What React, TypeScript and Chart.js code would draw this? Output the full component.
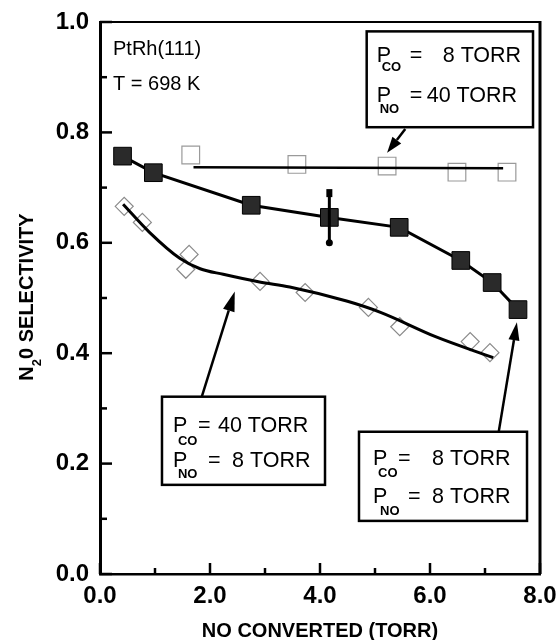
import React, { useEffect, useRef } from "react";
import { Chart, registerables } from "chart.js";

Chart.register(...registerables);

// ---- Data ----
// Filled squares: P_CO = 8 TORR, P_NO = 8 TORR
const filledX = [0.41, 0.97, 2.75, 4.17, 5.44, 6.56, 7.13, 7.6];
const filledY = [0.757, 0.727, 0.668, 0.646, 0.628, 0.568, 0.528, 0.479];
// error bar on the filled series
const errX = [4.17];
const errLo = [0.6];
const errHi = [0.69];

// Open squares: P_CO = 8 TORR, P_NO = 40 TORR
const openX = [1.65, 3.58, 5.22, 6.49, 7.4];
const openY = [0.759, 0.742, 0.739, 0.728, 0.728];
// straight fit line through the open squares
const openFitX = [1.7, 7.33];
const openFitY = [0.737, 0.735];

// Diamonds: P_CO = 40 TORR, P_NO = 8 TORR
const diamondX = [0.44, 0.77, 1.62, 1.56, 2.91, 3.73, 4.88, 5.45, 6.73, 7.09];
const diamondY = [0.666, 0.637, 0.579, 0.552, 0.53, 0.51, 0.483, 0.448, 0.421, 0.401];
// smooth fit curve through the diamonds
const diamondFitX = [0.42, 0.9, 1.45, 1.82, 2.24, 2.9, 3.45, 4.5, 5.1, 6.1, 7.15];
const diamondFitY = [0.67, 0.619, 0.572, 0.553, 0.543, 0.529, 0.52, 0.494, 0.474, 0.43, 0.392];

// Axis ticks
const xMajor = [0, 2, 4, 6, 8];
const xMinor = [1, 3, 5, 7];
const yMajor = [0, 0.2, 0.4, 0.6, 0.8, 1.0];
const yMinor = [0.1, 0.3, 0.5, 0.7, 0.9];

const xTitle = "NO CONVERTED (TORR)";
const yTitleParts = ["N", "2", "0 SELECTIVITY"];
const sampleLabels = ["PtRh(111)", "T = 698 K"];

// Annotation boxes (data coordinates for the box, pixel offsets for text inside)
const boxes = [
  {
    x0: 4.849, x1: 7.873, y0: 0.983, y1: 0.8094,
    lines: [
      { pDx: 10, pBy: 31, sub: "CO", sDx: 15, sBy: 40, eqDx: 43, val: "8 TORR", vDx: 76 },
      { pDx: 10, pBy: 71, sub: "NO", sDx: 13, sBy: 82, eqDx: 43, val: "40 TORR", vDx: 60 },
    ],
  },
  {
    x0: 1.127, x1: 4.091, y0: 0.3212, y1: 0.1615,
    lines: [
      { pDx: 11, pBy: 35, sub: "CO", sDx: 16, sBy: 48, eqDx: 36, val: "40 TORR", vDx: 56 },
      { pDx: 11, pBy: 70, sub: "NO", sDx: 16, sBy: 81, eqDx: 46, val: "8 TORR", vDx: 70 },
    ],
  },
  {
    x0: 4.709, x1: 7.764, y0: 0.2577, y1: 0.0962,
    lines: [
      { pDx: 14, pBy: 33, sub: "CO", sDx: 19, sBy: 45, eqDx: 39, val: "8 TORR", vDx: 73 },
      { pDx: 14, pBy: 71, sub: "NO", sDx: 21, sBy: 83, eqDx: 49, val: "8 TORR", vDx: 73 },
    ],
  },
];

// Arrows: tail -> tip (data coordinates)
const arrows = [
  { x0: 5.55, y0: 0.806, x1: 5.22, y1: 0.763, head: 16, w: 11 },
  { x0: 1.85, y0: 0.321, x1: 2.45, y1: 0.512, head: 20, w: 12 },
  { x0: 7.25, y0: 0.258, x1: 7.58, y1: 0.456, head: 18, w: 11 },
];

const FONT = "'Liberation Sans', Arial, Helvetica, sans-serif";

const pts = (xs: number[], ys: number[]) => xs.map((x, i) => ({ x, y: ys[i] }));

const customPlugin = {
  id: "customDraw",
  afterDatasetsDraw(chart: any) {
    const { ctx, chartArea: ca, scales } = chart;
    const xs = scales.x;
    const ys = scales.y;
    const px = (v: number) => xs.getPixelForValue(v);
    const py = (v: number) => ys.getPixelForValue(v);
    ctx.save();
    ctx.strokeStyle = "#000";
    ctx.fillStyle = "#000";
    ctx.lineCap = "butt";

    // top and right frame
    ctx.lineWidth = 2;
    ctx.beginPath();
    ctx.moveTo(ca.left, ca.top);
    ctx.lineTo(ca.right, ca.top);
    ctx.stroke();
    ctx.lineWidth = 3;
    ctx.beginPath();
    ctx.moveTo(ca.right, ca.top - 1);
    ctx.lineTo(ca.right, ca.bottom);
    ctx.stroke();

    // inward ticks
    ctx.lineWidth = 2.5;
    const tick = (vals: number[], len: number, axis: "x" | "y") => {
      vals.forEach((v) => {
        ctx.beginPath();
        if (axis === "x") {
          const p = px(v);
          ctx.moveTo(p, ca.bottom);
          ctx.lineTo(p, ca.bottom - len);
        } else {
          const p = py(v);
          ctx.moveTo(ca.left, p);
          ctx.lineTo(ca.left + len, p);
        }
        ctx.stroke();
      });
    };
    tick(xMajor, 11, "x");
    tick(xMinor, 6, "x");
    tick(yMajor, 12, "y");
    tick(yMinor, 7, "y");

    // error bar
    errX.forEach((xv, i) => {
      const x = px(xv);
      const t = py(errHi[i]);
      const b = py(errLo[i]);
      ctx.lineWidth = 3;
      ctx.beginPath();
      ctx.moveTo(x, t);
      ctx.lineTo(x, b);
      ctx.stroke();
      ctx.fillRect(x - 3, t - 4, 6, 8);
      ctx.beginPath();
      ctx.arc(x, b, 3.5, 0, Math.PI * 2);
      ctx.fill();
    });

    // sample labels
    ctx.font = `20px ${FONT}`;
    ctx.textAlign = "left";
    ctx.textBaseline = "alphabetic";
    ctx.fillText(sampleLabels[0], ca.left + 13, ca.top + 33);
    ctx.fillText(sampleLabels[1], ca.left + 13, ca.top + 68);

    // boxes
    boxes.forEach((bx) => {
      const l = px(bx.x0);
      const r = px(bx.x1);
      const t = py(bx.y0);
      const b = py(bx.y1);
      ctx.fillStyle = "#fff";
      ctx.fillRect(l, t, r - l, b - t);
      ctx.fillStyle = "#000";
      ctx.lineWidth = 2.5;
      ctx.strokeRect(l, t, r - l, b - t);
      bx.lines.forEach((ln) => {
        ctx.font = `21.5px ${FONT}`;
        ctx.fillText("P", l + ln.pDx, t + ln.pBy);
        ctx.fillText("=", l + ln.eqDx, t + ln.pBy);
        ctx.fillText(ln.val, l + ln.vDx, t + ln.pBy);
        ctx.font = `bold 13px ${FONT}`;
        ctx.fillText(ln.sub, l + ln.sDx, t + ln.sBy);
      });
    });

    // arrows
    arrows.forEach((a) => {
      const x0 = px(a.x0), y0 = py(a.y0), x1 = px(a.x1), y1 = py(a.y1);
      const ang = Math.atan2(y1 - y0, x1 - x0);
      const bxp = x1 - Math.cos(ang) * a.head;
      const byp = y1 - Math.sin(ang) * a.head;
      ctx.lineWidth = 2.5;
      ctx.beginPath();
      ctx.moveTo(x0, y0);
      ctx.lineTo(bxp, byp);
      ctx.stroke();
      const nx = -Math.sin(ang) * (a.w / 2);
      const ny = Math.cos(ang) * (a.w / 2);
      ctx.beginPath();
      ctx.moveTo(x1, y1);
      ctx.lineTo(bxp + nx, byp + ny);
      ctx.lineTo(bxp - nx, byp - ny);
      ctx.closePath();
      ctx.fill();
    });

    // axis titles
    ctx.font = `bold 20px ${FONT}`;
    ctx.textAlign = "center";
    ctx.fillText(xTitle, (ca.left + ca.right) / 2, 637);

    ctx.translate(33, 297);
    ctx.rotate(-Math.PI / 2);
    ctx.textAlign = "left";
    ctx.font = `bold 20px ${FONT}`;
    const wN = ctx.measureText(yTitleParts[0]).width;
    ctx.font = `bold 13px ${FONT}`;
    const w2 = ctx.measureText(yTitleParts[1]).width;
    ctx.font = `bold 20px ${FONT}`;
    const wRest = ctx.measureText(yTitleParts[2]).width;
    const total = wN + w2 + wRest;
    let cx = -total / 2;
    ctx.fillText(yTitleParts[0], cx, 0);
    cx += wN;
    ctx.font = `bold 13px ${FONT}`;
    ctx.fillText(yTitleParts[1], cx, 8);
    cx += w2;
    ctx.font = `bold 20px ${FONT}`;
    ctx.fillText(yTitleParts[2], cx, 0);

    ctx.restore();
  },
};

export default function App() {
  const ref = useRef<HTMLCanvasElement | null>(null);
  useEffect(() => {
    if (!ref.current) return;
    const tickFont = { family: FONT, size: 24, weight: "bold" as const };
    const chart = new Chart(ref.current, {
      type: "scatter",
      data: {
        datasets: [
          {
            label: "PCO=8, PNO=8",
            data: pts(filledX, filledY),
            showLine: true,
            borderColor: "#000",
            borderWidth: 3,
            tension: 0,
            pointStyle: "rect",
            pointRadius: 12.5,
            pointBackgroundColor: "#2a2a2a",
            pointBorderColor: "#000",
            pointBorderWidth: 1,
            order: 0,
          },
          {
            label: "open fit",
            data: pts(openFitX, openFitY),
            showLine: true,
            borderColor: "#000",
            borderWidth: 2.5,
            pointRadius: 0,
            order: 1,
          },
          {
            label: "diamond fit",
            data: pts(diamondFitX, diamondFitY),
            showLine: true,
            borderColor: "#000",
            borderWidth: 3,
            cubicInterpolationMode: "monotone",
            pointRadius: 0,
            order: 1,
          },
          {
            label: "PCO=8, PNO=40",
            data: pts(openX, openY),
            showLine: false,
            pointStyle: "rect",
            pointRadius: 12.5,
            pointBackgroundColor: "rgba(255,255,255,0)",
            pointBorderColor: "#9a9a9a",
            pointBorderWidth: 1.2,
            order: 3,
          },
          {
            label: "PCO=40, PNO=8",
            data: pts(diamondX, diamondY),
            showLine: false,
            pointStyle: "rectRot",
            pointRadius: 9,
            pointBackgroundColor: "rgba(255,255,255,0)",
            pointBorderColor: "#8a8a8a",
            pointBorderWidth: 1.2,
            order: 3,
          },
        ],
      },
      options: {
        responsive: false,
        animation: false,
        devicePixelRatio: 1,
        layout: { padding: { top: 22, right: 18, left: 0, bottom: 0 } },
        plugins: { legend: { display: false }, tooltip: { enabled: false } },
        scales: {
          x: {
            type: "linear",
            min: 0,
            max: 8,
            ticks: {
              stepSize: 2,
              autoSkip: false,
              maxRotation: 0,
              padding: 8,
              color: "#000",
              font: tickFont,
              callback: (v: any) => Number(v).toFixed(1),
            },
            grid: { display: false, drawTicks: false },
            border: { display: true, color: "#000", width: 2.5 },
            afterFit: (s: any) => {
              s.height = 66;
              s.paddingLeft = 0;
              s.paddingRight = 0;
            },
          },
          y: {
            type: "linear",
            min: 0,
            max: 1,
            ticks: {
              stepSize: 0.2,
              autoSkip: false,
              padding: 11,
              color: "#000",
              font: tickFont,
              callback: (v: any) => Number(v).toFixed(1),
            },
            grid: { display: false, drawTicks: false },
            border: { display: true, color: "#000", width: 3 },
            afterFit: (s: any) => {
              s.width = 100;
              s.paddingTop = 0;
              s.paddingBottom = 0;
            },
          },
        },
      },
      plugins: [customPlugin],
    });
    return () => chart.destroy();
  }, []);
  return (
    <div style={{ position: "absolute", left: 0, top: 0, width: 558, height: 640, background: "#fff" }}>
      <canvas ref={ref} width={558} height={640} style={{ display: "block" }} />
    </div>
  );
}
